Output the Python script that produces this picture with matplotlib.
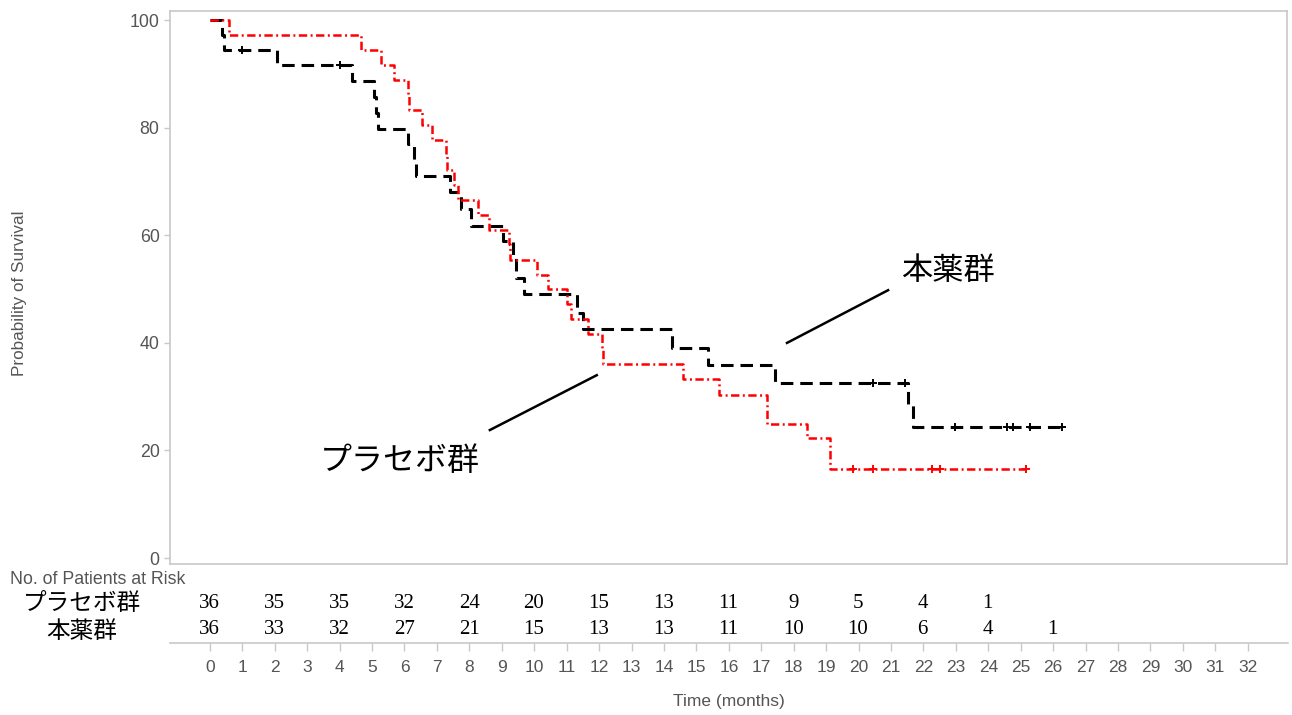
import numpy as np
import matplotlib
matplotlib.use('Agg')
import matplotlib.pyplot as plt
from matplotlib.transforms import blended_transform_factory

plt.rcParams['font.family'] = ['Liberation Sans', 'DejaVu Sans']
plt.rcParams['lines.scale_dashes'] = False

# Kaplan-Meier step points (months, % surviving)
drug_t = [0, 0.37, 0.43, 2.06, 4.38, 5.05, 5.12, 5.18, 6.10, 6.29, 6.35, 7.40, 7.75,
          8.07, 9.06, 9.34, 9.45, 9.70, 11.34, 11.50, 14.27, 15.38, 17.44, 21.54,
          21.70, 26.29]
drug_s = [100, 97.2, 94.4, 91.6, 88.6, 85.7, 82.8, 79.8, 76.9, 74.0, 71.0, 68.0, 64.9,
          61.8, 58.9, 56.0, 52.0, 49.1, 45.6, 42.5, 39.0, 35.9, 32.5, 28.4,
          24.3, 24.3]
drug_cens = [1.0, 4.01, 20.46, 21.45, 22.99, 24.59, 24.78, 25.30, 26.29]

plac_t = [0, 0.59, 4.65, 5.27, 5.67, 6.10, 6.13, 6.56, 6.87, 7.30, 7.33, 7.52, 7.67,
          8.29, 8.60, 9.22, 9.25, 10.10, 10.45, 11.03, 11.15, 11.68, 12.10, 12.14,
          14.60, 15.70, 17.20, 18.43, 19.14, 25.20]
plac_s = [100, 97.2, 94.4, 91.6, 88.8, 86.0, 83.3, 80.5, 77.7, 75.0, 72.2, 69.4, 66.6,
          63.8, 61.0, 58.3, 55.5, 52.7, 50.0, 47.2, 44.4, 41.6, 38.9, 36.1,
          33.3, 30.3, 25.0, 22.3, 16.6, 16.6]
plac_cens = [19.85, 20.46, 22.28, 22.53, 25.20]

# numbers at risk every 2 months
risk_months = list(range(0, 27, 2))
risk_plac = [36, 35, 35, 32, 24, 20, 15, 13, 11, 9, 5, 4, 1]
risk_drug = [36, 33, 32, 27, 21, 15, 13, 13, 11, 10, 10, 6, 4, 1]

grp_plac = 'プラセボ群'
grp_drug = '本薬群'

GRAY = '#c8c8c8'
TXT = '#555555'
JP = ['Noto Sans CJK JP', 'DejaVu Sans']
SERIF = ['Liberation Serif', 'DejaVu Serif']


def surv_at(ts, ss, t):
    i = np.searchsorted(ts, t, side='right') - 1
    return np.asarray(ss)[i]


W, H = 1292, 715
fig = plt.figure(figsize=(W / 100, H / 100), dpi=100, facecolor='white')
ax = fig.add_axes([170 / W, 1 - 564 / H, (1287 - 170) / W, (564 - 11) / H])
xlim = (-1.23, 33.24)
ax.set_xlim(*xlim)
ax.set_ylim(-1.1, 101.7)

ax.step(drug_t, drug_s, where='post', color='black', lw=2.2, ls=(0, (9, 5)),
        zorder=3)
ax.step(plac_t, plac_s, where='post', color='#ff0000', lw=1.8,
        ls=(0, (6, 2.5, 1.4, 2.5)), zorder=4)
ax.plot(drug_cens, surv_at(drug_t, drug_s, drug_cens), ls='none', marker='+',
        ms=6, mew=1.4, color='black', zorder=5)
ax.plot(plac_cens, surv_at(plac_t, plac_s, plac_cens), ls='none', marker='+',
        ms=6, mew=1.4, color='#ff0000', zorder=5)

for sp in ax.spines.values():
    sp.set_color(GRAY)
    sp.set_linewidth(1.2)
ax.set_xticks([])
ax.set_yticks(range(0, 101, 20))
ax.tick_params(axis='y', length=4.5, width=1, color=GRAY, labelcolor=TXT,
               labelsize=12.8, pad=3)
ax.set_ylabel('Probability of Survival', color=TXT, fontsize=12.3)
ax.yaxis.set_label_coords(-0.128, 0.49)

# labels pointing at the curves
ax.plot([20.93, 17.81], [49.8, 40.0], color='black', lw=1.8)
ax.text(22.78, 53.35, grp_drug, family=JP, fontsize=22.5, ha='center', va='center')
ax.plot([8.64, 11.94], [23.8, 34.0], color='black', lw=1.8)
ax.text(5.85, 18.1, grp_plac, family=JP, fontsize=23, ha='center', va='center')

# time axis under the risk table
axb = fig.add_axes([170 / W, 1 - 643 / H, (1288 - 170) / W, 0.001])
axb.set_xlim(*xlim)
for k in ('top', 'left', 'right'):
    axb.spines[k].set_visible(False)
axb.spines['bottom'].set_color(GRAY)
axb.spines['bottom'].set_linewidth(1.2)
axb.set_yticks([])
axb.set_xticks(range(0, 33))
axb.tick_params(axis='x', length=6, width=1, color=GRAY, labelcolor=TXT,
                labelsize=12.5, pad=6.5)
axb.set_xlabel('Time (months)', color=TXT, fontsize=12.5, labelpad=13.5)
axb.patch.set_alpha(0)

# risk table
tr = blended_transform_factory(ax.transData, fig.transFigure)
fig.text(10 / W, 1 - 580 / H, 'No. of Patients at Risk', color=TXT, fontsize=12.8,
         ha='left', va='center')
fig.text(82 / W, 1 - 604 / H, grp_plac, family=JP, fontsize=17, ha='center', va='center')
fig.text(82 / W, 1 - 632 / H, grp_drug, family=JP, fontsize=17, ha='center', va='center')
for m, n in zip(risk_months, risk_plac):
    ax.text(m, 1 - 603 / H, str(n), transform=tr, family=SERIF, fontsize=15,
            ha='center', va='center', clip_on=False)
for m, n in zip(risk_months, risk_drug):
    ax.text(m, 1 - 630 / H, str(n), transform=tr, family=SERIF, fontsize=15,
            ha='center', va='center', clip_on=False)

fig.savefig('out.png', dpi=100, facecolor='white')
